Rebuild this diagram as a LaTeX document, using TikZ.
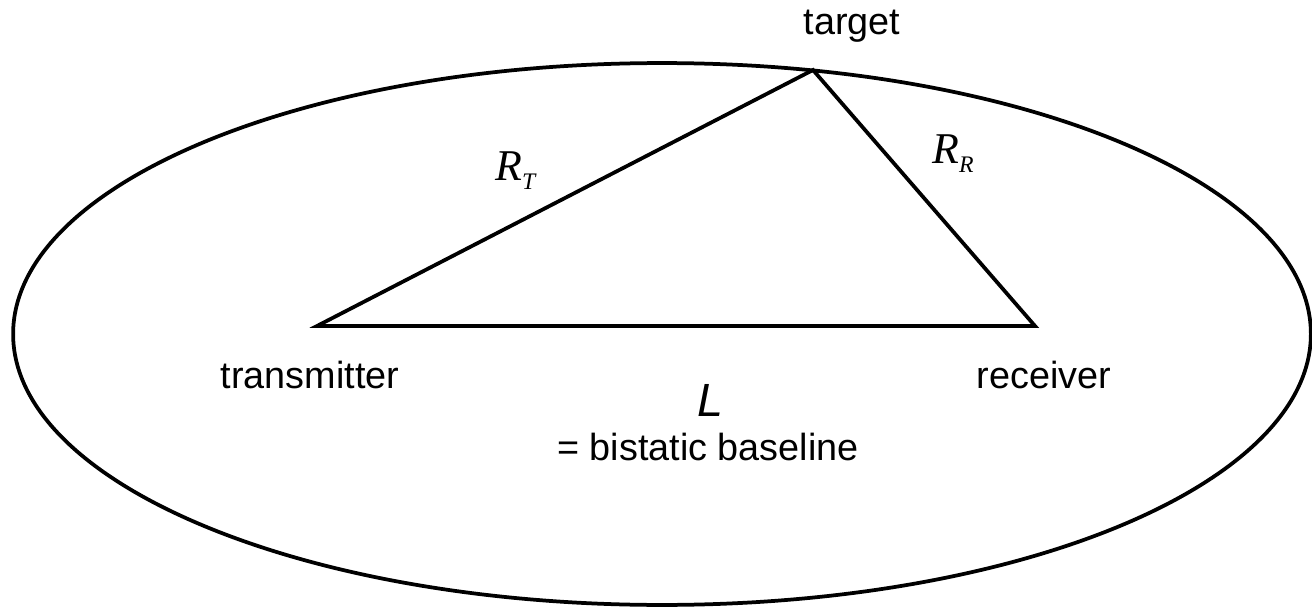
\documentclass[tikz,border=0pt]{standalone}
\usepackage{fontspec}
\setmainfont{Liberation Sans}
\newfontfamily\eqfont{Liberation Serif}
\usepackage{tikz}
\usetikzlibrary{positioning,calc}

% subscripted range symbol, equation-editor look
\newcommand{\rng}[1]{\eqfont\itshape R\raisebox{-0.2cm}{\fontsize{13.5}{14}\selectfont #1}}

\begin{document}
\begin{tikzpicture}[
  x=0.02cm, y=-0.02cm,
  lbl/.style={font=\fontsize{21.5}{24}\selectfont, inner sep=0pt, anchor=base},
  sym/.style={font=\fontsize{25}{28}\selectfont, inner sep=0pt, anchor=base west},
  edge/.style={line width=0.075cm, line join=miter}
]
\useasboundingbox (0,0) rectangle (1312,608);

% bistatic geometry
\coordinate (tx)  at (317,326);
\coordinate (rx)  at (1035,326);
\coordinate (tgt) at (813,70);

% constant-range ellipse through the target
\draw[edge] (662,334) ellipse (12.98cm and 5.42cm);

\draw[edge] (tx) -- (tgt) -- (rx) -- cycle;

\node[lbl] (tgtlbl) at (852,35)  {target};
\node[lbl] (txlbl)  at (310,388) {transmitter};
\node[lbl] (rxlbl)  at (1044,388) {receiver};
\node[lbl, font=\fontsize{26.5}{28}\selectfont\itshape] (L) at (710,416) {L};
\node[lbl] (Ldef) at (708,460) {= bistatic baseline};

\node[sym] (rt) at (495,180) {\rng{T}};
\node[sym] (rr) at (932,163) {\rng{R}};
\end{tikzpicture}
\end{document}
